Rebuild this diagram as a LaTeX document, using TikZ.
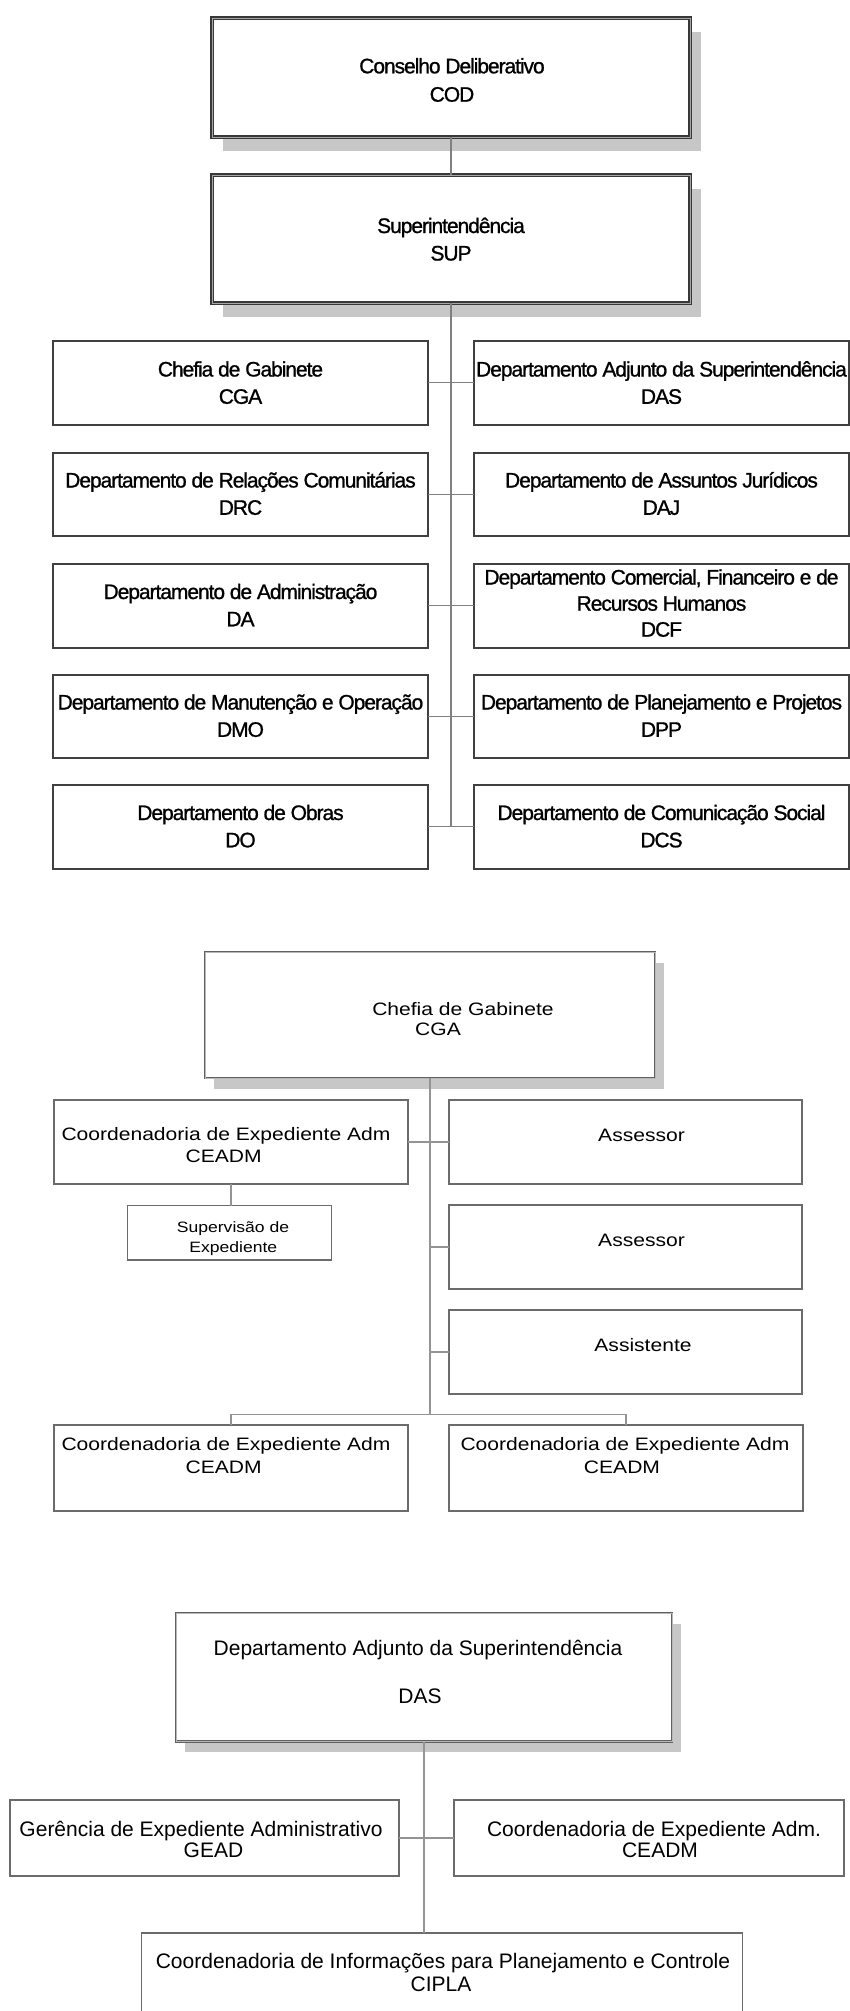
\documentclass[tikz,border=0pt]{standalone}
\usepackage{fontspec}
\setmainfont{Liberation Sans}
\newfontfamily\tightface[LetterSpace=-5,FakeBold=1]{Liberation Sans}
\newfontfamily\wideface[FakeStretch=1.17]{Liberation Sans}
\usetikzlibrary{fit,shadows}

\tikzset{
  % framed head boxes with drop shadow
  headA/.style={draw=black!78, double=black!35, line width=0.9pt, double distance=0.55pt,
    fill=white, inner sep=0pt, outer sep=0pt,
    drop shadow={shadow xshift=8.25pt, shadow yshift=-10.5pt, fill=black!22, opacity=1}},
  headB/.style={draw=black!62, double=black!28, line width=0.8pt, double distance=0.5pt,
    fill=white, inner sep=0pt, outer sep=0pt,
    drop shadow={shadow xshift=6.75pt, shadow yshift=-7.9pt, fill=black!22, opacity=1}},
  unitA/.style={draw=black!75, line width=1.5pt, fill=white, inner sep=0pt, outer sep=0pt},
  unitB/.style={draw=black!58, line width=1.05pt, fill=white, inner sep=0pt, outer sep=0pt},
  linkA/.style={draw=black!50, line width=1.1pt},
  linkB/.style={draw=black!42, line width=0.9pt},
  txtA/.style={anchor=base, inner sep=0pt, font=\tightface\fontsize{15.75pt}{18pt}\selectfont},
  txtB/.style={anchor=base, inner sep=0pt, font=\wideface\fontsize{13.5pt}{16pt}\selectfont},
  txtBs/.style={anchor=base, inner sep=0pt, font=\wideface\fontsize{11.25pt}{13pt}\selectfont},
  txtC/.style={anchor=base, inner sep=0pt, font=\fontsize{15.75pt}{18pt}\selectfont},
}

\begin{document}
\begin{tikzpicture}[x=0.75pt,y=-0.75pt]
\useasboundingbox (0,0) rectangle (850,2011);
\fill[white] (0,0) rectangle (850,2011);
\clip (0,0) rectangle (850,2011);

% ---------------- Organograma geral ----------------
\node[headA, fit={(212,18)(690,137)}] (cod) {};
\node[txtA] (codA) at (452,73.3) {Conselho Deliberativo};
\node[txtA] (codB) at (452,101.7) {COD};

\node[headA, fit={(212,175)(690,303)}] (sup) {};
\node[txtA] (supA) at (451,233) {Superintendência};
\node[txtA] (supB) at (451,260.5) {SUP};

% left column
\node[unitA, fit={(52.6,341)(428.2,424.5)}] (r1l) {};
\node[txtA] (r1lA) at (240.5,376.5) {Chefia de Gabinete};
\node[txtA] (r1lB) at (240.5,403.8) {CGA};

\node[unitA, fit={(52.6,452.5)(428.2,536)}] (r2l) {};
\node[txtA] (r2lA) at (240.5,487.5) {Departamento de Relações Comunitárias};
\node[txtA] (r2lB) at (240.5,514.8) {DRC};

\node[unitA, fit={(52.6,564)(428.2,647.5)}] (r3l) {};
\node[txtA] (r3lA) at (240.5,599) {Departamento de Administração};
\node[txtA] (r3lB) at (240.5,626.3) {DA};

\node[unitA, fit={(52.6,674.5)(428.2,758)}] (r4l) {};
\node[txtA] (r4lA) at (240.5,709.5) {Departamento de Manutenção e Operação};
\node[txtA] (r4lB) at (240.5,736.8) {DMO};

\node[unitA, fit={(52.6,785)(428.2,868.5)}] (r5l) {};
\node[txtA] (r5lA) at (240.5,820) {Departamento de Obras};
\node[txtA] (r5lB) at (240.5,847.3) {DO};

% right column
\node[unitA, fit={(474,341)(849,424.5)}] (r1r) {};
\node[txtA] (r1rA) at (661.5,376.5) {Departamento Adjunto da Superintendência};
\node[txtA] (r1rB) at (661.5,403.8) {DAS};

\node[unitA, fit={(474,452.5)(849,536)}] (r2r) {};
\node[txtA] (r2rA) at (661.5,487.5) {Departamento de Assuntos Jurídicos};
\node[txtA] (r2rB) at (661.5,514.8) {DAJ};

\node[unitA, fit={(474,564)(849,647.5)}] (r3r) {};
\node[txtA] (r3rA) at (661.5,584.5) {Departamento Comercial, Financeiro e de};
\node[txtA] (r3rB) at (661.5,610.7) {Recursos Humanos};
\node[txtA] (r3rC) at (661.5,636.7) {DCF};

\node[unitA, fit={(474,674.5)(849,758)}] (r4r) {};
\node[txtA] (r4rA) at (661.5,709.5) {Departamento de Planejamento e Projetos};
\node[txtA] (r4rB) at (661.5,736.8) {DPP};

\node[unitA, fit={(474,785)(849,868.5)}] (r5r) {};
\node[txtA] (r5rA) at (661.5,820) {Departamento de Comunicação Social};
\node[txtA] (r5rB) at (661.5,847.3) {DCS};

\draw[linkA] (cod.south) -- (sup.north);
\draw[linkA] (sup.south) -- (sup.south |- r5l.east);
\draw[linkA] (r1l.east) -- (r1r.west);
\draw[linkA] (r2l.east) -- (r2r.west);
\draw[linkA] (r3l.east) -- (r3r.west);
\draw[linkA] (r4l.east) -- (r4r.west);
\draw[linkA] (r5l.east) -- (r5r.west);

% ---------------- Chefia de Gabinete ----------------
\node[headB, fit={(205,952)(655,1078)}] (cga) {};
\node[txtB] (cgaA) at (463,1015) {Chefia de Gabinete};
\node[txtB] (cgaB) at (438,1035) {CGA};

\node[unitB, fit={(54,1100)(408,1184)}] (ceA) {};
\node[txtB] (ceAa) at (226,1140) {Coordenadoria de Expediente Adm};
\node[txtB] (ceAb) at (223.7,1162.7) {CEADM};

\node[unitB, fit={(127.4,1205.5)(331.7,1260)}] (sv) {};
\node[txtBs] (svA) at (233,1232.7) {Supervisão de};
\node[txtBs] (svB) at (233.3,1252.7) {Expediente};

\node[unitB, fit={(449,1100)(802,1184)}] (asA) {};
\node[txtB] (asAt) at (641.5,1141.7) {Assessor};
\node[unitB, fit={(449,1205)(802,1289)}] (asB) {};
\node[txtB] (asBt) at (641.5,1246.7) {Assessor};
\node[unitB, fit={(449,1310)(802,1394)}] (ast) {};
\node[txtB] (astt) at (643,1351.7) {Assistente};

\node[unitB, fit={(54,1425)(408,1511)}] (ceB) {};
\node[txtB] (ceBa) at (226,1450) {Coordenadoria de Expediente Adm};
\node[txtB] (ceBb) at (223.7,1473) {CEADM};
\node[unitB, fit={(449,1425)(803,1511)}] (ceC) {};
\node[txtB] (ceCa) at (625,1450) {Coordenadoria de Expediente Adm};
\node[txtB] (ceCb) at (622,1473) {CEADM};

\coordinate (fork) at (430,1414.5);
\draw[linkB] (cga.south) -- (fork);
\draw[linkB] (ceA.east) -- (asA.west);
\draw[linkB] (asB.west) -- (asB.west -| cga.south);
\draw[linkB] (ast.west) -- (ast.west -| cga.south);
\draw[linkB] (ceA.south) -- (ceA.south |- sv.north);
\draw[linkB] (ceB.north) |- (fork) -| (ceC.north);

% ---------------- Departamento Adjunto ----------------
\node[headB, fit={(176,1613)(672,1741.5)}] (das) {};
\node[txtC] (dasA) at (418,1655) {Departamento Adjunto da Superintendência};
\node[txtC] (dasB) at (420,1703) {DAS};

\node[unitB, fit={(10,1800)(399,1876)}] (gead) {};
\node[txtC] (geadA) at (201,1836) {Gerência de Expediente Administrativo};
\node[txtC] (geadB) at (213.5,1857.7) {GEAD};

\node[unitB, fit={(454,1800)(844,1876)}] (cead) {};
\node[txtC] (ceadA) at (654,1836) {Coordenadoria de Expediente Adm.};
\node[txtC] (ceadB) at (660,1857.7) {CEADM};

\node[unitB, fit={(141.5,1933)(742.5,2030)}] (cipla) {};
\node[txtC] (ciplaA) at (443,1968) {Coordenadoria de Informações para Planejamento e Controle};
\node[txtC] (ciplaB) at (441,1991.7) {CIPLA};

\draw[linkB] (das.south) -- (das.south |- cipla.north);
\draw[linkB] (gead.east) -- (cead.west);
\end{tikzpicture}
\end{document}
